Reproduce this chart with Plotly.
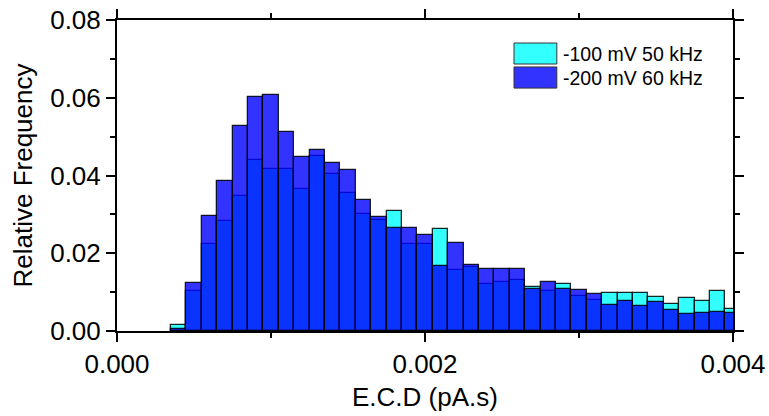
import plotly.graph_objects as go

# bin centres (pA.s)
bin_centers = [0.0004, 0.0005, 0.0006, 0.0007, 0.0008, 0.0009, 0.0010, 0.0011, 0.0012,
               0.0013, 0.0014, 0.0015, 0.0016, 0.0017, 0.0018, 0.0019, 0.0020, 0.0021,
               0.0022, 0.0023, 0.0024, 0.0025, 0.0026, 0.0027, 0.0028, 0.0029, 0.0030,
               0.0031, 0.0032, 0.0033, 0.0034, 0.0035, 0.0036, 0.0037, 0.0038, 0.0039,
               0.0040]

freq_100mV_50kHz = [0.0015, 0.0102, 0.0225, 0.0282, 0.0346, 0.0440, 0.0416, 0.0416, 0.0365,
                    0.0451, 0.0403, 0.0356, 0.0300, 0.0286, 0.0308, 0.0224, 0.0224, 0.0262,
                    0.0158, 0.0165, 0.0120, 0.0125, 0.0130, 0.0113, 0.0102, 0.0121, 0.0090,
                    0.0080, 0.0097, 0.0097, 0.0097, 0.0088, 0.0069, 0.0084, 0.0078, 0.0102,
                    0.0056]

freq_200mV_60kHz = [0.0005, 0.0124, 0.0296, 0.0386, 0.0528, 0.0603, 0.0608, 0.0513, 0.0448,
                    0.0466, 0.0433, 0.0413, 0.0338, 0.0292, 0.0266, 0.0266, 0.0248, 0.0167,
                    0.0226, 0.0169, 0.0160, 0.0160, 0.0160, 0.0107, 0.0126, 0.0107, 0.0105,
                    0.0094, 0.0067, 0.0077, 0.0064, 0.0074, 0.0055, 0.0045, 0.0047, 0.0048,
                    0.0047]

series_names = ["-100 mV 50 kHz", "-200 mV 60 kHz"]
x_tick_vals = [0, 0.002, 0.004]
x_tick_text = ["0.000", "0.002", "0.004"]
y_tick_vals = [0, 0.02, 0.04, 0.06, 0.08]
y_tick_text = ["0.00", "0.02", "0.04", "0.06", "0.08"]
bin_width = 0.0001

cyan = "rgba(0,255,255,0.8)"
blue = "rgba(0,0,255,0.8)"
edge = "rgba(0,0,0,0.85)"
FONT = "Arial, Liberation Sans, sans-serif"

fig = go.Figure()
fig.add_trace(go.Bar(x=bin_centers, y=freq_100mV_50kHz, width=bin_width, name=series_names[0],
                     marker=dict(color=cyan, line=dict(color=edge, width=1.3)), showlegend=False))
fig.add_trace(go.Bar(x=bin_centers, y=freq_200mV_60kHz, width=bin_width, name=series_names[1],
                     marker=dict(color=blue, line=dict(color=edge, width=1.3)), showlegend=False))

# custom legend (wide swatches)
fig.add_shape(type="rect", xref="paper", yref="paper", x0=0.6445, x1=0.714, y0=0.8585, y1=0.926,
              fillcolor=cyan, line=dict(color="#333", width=1))
fig.add_shape(type="rect", xref="paper", yref="paper", x0=0.6445, x1=0.714, y0=0.781, y1=0.849,
              fillcolor=blue, line=dict(color="#333", width=1))
fig.add_annotation(xref="paper", yref="paper", x=0.720, y=0.892, text=series_names[0],
                   showarrow=False, xanchor="left", yanchor="middle",
                   font=dict(family=FONT, size=19.5, color="black"))
fig.add_annotation(xref="paper", yref="paper", x=0.720, y=0.815, text=series_names[1],
                   showarrow=False, xanchor="left", yanchor="middle",
                   font=dict(family=FONT, size=19.5, color="black"))

fig.update_layout(
    width=769, height=416,
    margin=dict(l=117, r=36, t=20, b=85, autoexpand=False),
    barmode="overlay", bargap=0,
    plot_bgcolor="white", paper_bgcolor="white",
    font=dict(family=FONT, size=26, color="black"),
    xaxis=dict(range=[0, 0.004], tickvals=x_tick_vals, ticktext=x_tick_text,
               ticks="outside", ticklen=9, tickwidth=2, tickcolor="black",
               minor=dict(tickvals=[0.001, 0.003], ticks="outside", ticklen=5, tickwidth=2, tickcolor="black"),
               showline=True, linewidth=2, linecolor="black", mirror="allticks",
               showgrid=False, zeroline=False, tickfont=dict(size=26), automargin=False,
               title=dict(text="E.C.D (pA.s)", standoff=10, font=dict(size=26))),
    yaxis=dict(range=[0, 0.08], tickvals=y_tick_vals, ticktext=y_tick_text,
               ticks="outside", ticklen=9, tickwidth=2, tickcolor="black",
               minor=dict(tickvals=[0.01, 0.03, 0.05, 0.07], ticks="outside", ticklen=5, tickwidth=2, tickcolor="black"),
               showline=True, linewidth=2, linecolor="black", mirror="allticks",
               showgrid=False, zeroline=False, tickfont=dict(size=26), automargin=False,
               title=dict(text="Relative Frequency", standoff=10, font=dict(size=26))),
)

fig.write_html("out.html", config={"displayModeBar": False},
               post_script="document.body.style.margin='0px';document.body.style.overflow='hidden';")
